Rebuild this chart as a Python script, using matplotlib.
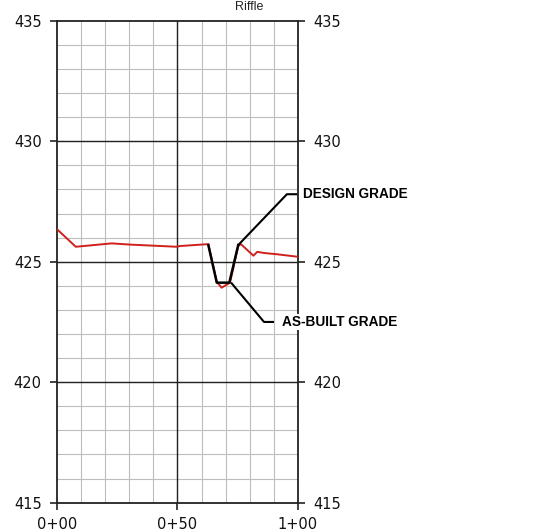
import matplotlib
matplotlib.use("Agg")
import matplotlib.pyplot as plt

# ---- data ----
station_ft = [0, 7.8, 22.7, 30.3, 49.7, 51.0, 62.8, 66.3, 68.3, 71.8, 75.2, 76.3, 81.5, 83.1, 86.0, 91.2, 99.5]
asbuilt_elev = [426.35, 425.62, 425.76, 425.71, 425.62, 425.65, 425.73, 424.17, 423.92, 424.13, 425.65, 425.73, 425.25, 425.41, 425.36, 425.31, 425.21]

design_station = [62.8, 66.3, 71.5, 75.2]
design_elev = [425.69, 424.13, 424.13, 425.69]

x_ticks = [0, 50, 100]
x_labels = ["0+00", "0+50", "1+00"]
y_ticks = [415, 420, 425, 430, 435]

fig = plt.figure(figsize=(5.35, 5.31), dpi=100)
ax = fig.add_axes([0.1065, 0.0533, 0.4505, 0.9077])

ax.set_xlim(0, 100)
ax.set_ylim(415, 435)

# minor grid (every 10 ft / 1 ft)
for xv in range(10, 100, 10):
    ax.axvline(xv, color="#bdbdbd", lw=0.8, zorder=1)
for yv in range(416, 435):
    ax.axhline(yv, color="#bdbdbd", lw=0.8, zorder=1)
# major grid
ax.axvline(50, color="#222222", lw=1.0, zorder=2)
for yv in [420, 425, 430]:
    ax.axhline(yv, color="#222222", lw=1.0, zorder=2)

ax.plot(station_ft, asbuilt_elev, color="#d0201c", lw=1.4, zorder=4)
ax.plot(design_station, design_elev, color="black", lw=1.8, zorder=5)

# leaders + labels
ax.plot([75.2, 95.4, 99.2], [425.69, 427.8, 427.8], color="black", lw=1.5, zorder=5, clip_on=False)
ax.plot([72.5, 85.9, 89.6], [424.1, 422.5, 422.5], color="black", lw=1.5, zorder=5, clip_on=False)
ax.text(102.0, 427.8, "DESIGN GRADE", fontsize=9.8, fontweight="bold", family="Liberation Sans",
        va="center", ha="left", zorder=6, clip_on=False)
ax.text(93.5, 422.5, "AS-BUILT GRADE", fontsize=9.8, fontweight="bold", family="Liberation Sans",
        va="center", ha="left", zorder=6, clip_on=False,
        bbox=dict(facecolor="white", edgecolor="none", pad=1.0))

fig.text(0.465, 0.986, "Riffle", fontsize=9, family="Liberation Sans", color="#222222",
         ha="center", va="center")

ax.set_xticks(x_ticks)
ax.set_xticklabels(x_labels)
ax.set_yticks(y_ticks)
ax.tick_params(axis="both", direction="out", length=5, width=1.2, labelsize=10.5,
               color="#222222", labelcolor="#111111")
ax.tick_params(axis="y", right=True, labelright=True, pad=6)
ax.tick_params(axis="x", pad=5)

for sp in ax.spines.values():
    sp.set_color("#222222")
    sp.set_linewidth(1.3)

fig.savefig("out.png", dpi=100)
